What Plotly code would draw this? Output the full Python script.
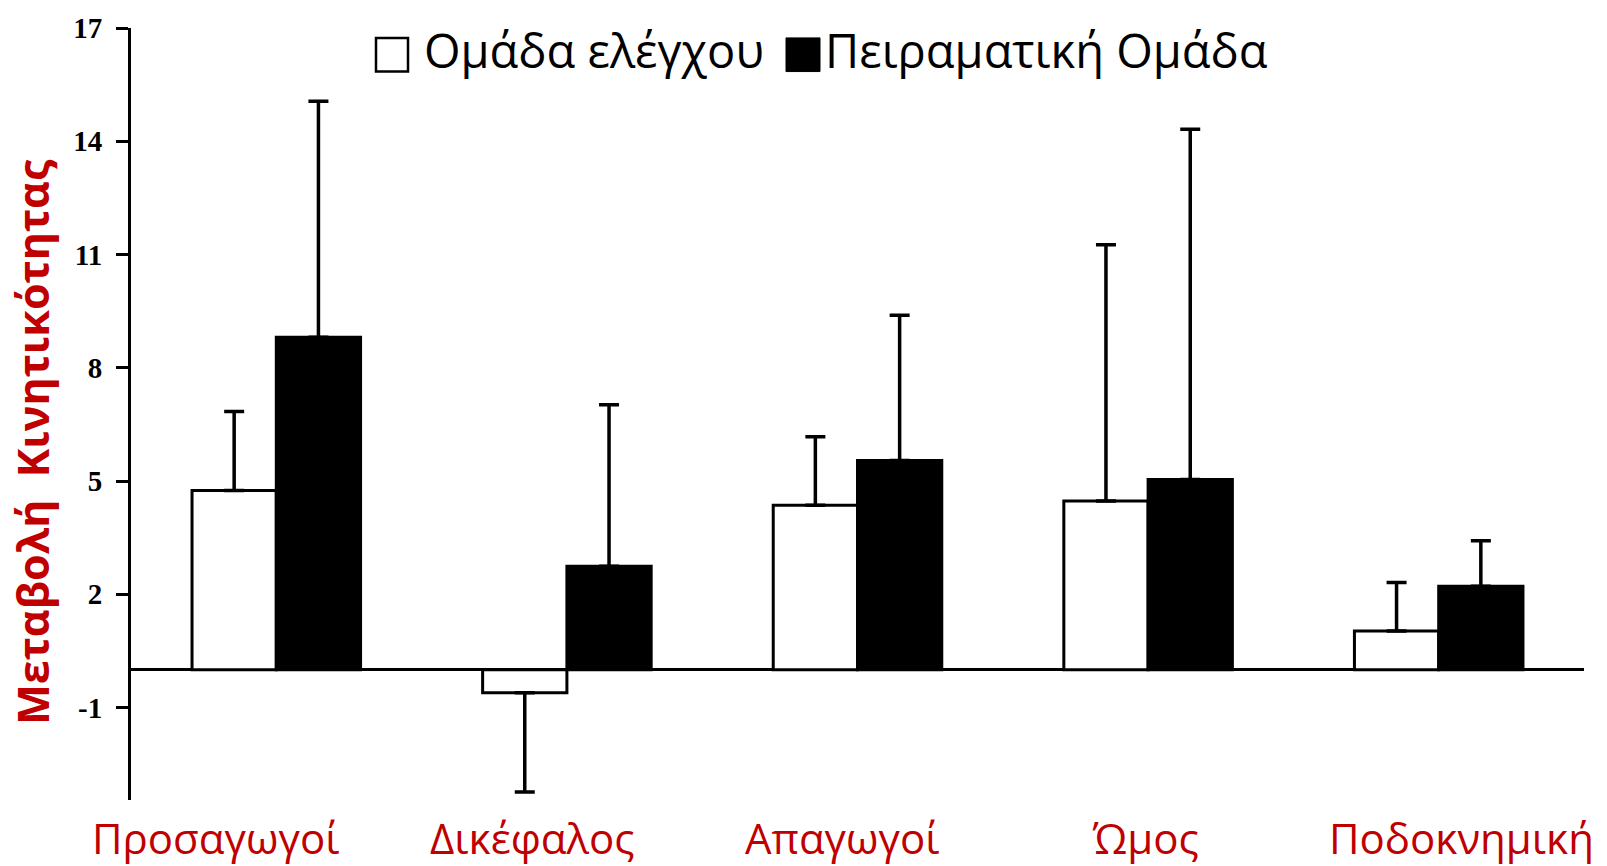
import plotly.graph_objects as go

# ---------------- data ----------------
categories = ["Προσαγωγοί", "Δικέφαλος", "Απαγωγοί", "Ώμος", "Ποδοκνημική"]
control_name = "Ομάδα ελέγχου"
exper_name = "Πειραματική Ομάδα"
control_values = [4.75, -0.61, 4.36, 4.47, 1.03]
control_sd = [2.09, 2.63, 1.81, 6.79, 1.28]
exper_values = [8.81, 2.74, 5.54, 5.04, 2.21]
exper_sd = [6.25, 4.28, 3.85, 9.28, 1.21]
y_ticks = [-1, 2, 5, 8, 11, 14, 17]
y_tick_labels = ["-1", "2", "5", "8", "11", "14", "17"]
y_title = "Μεταβολή  Κινητικότητας"

# ---------------- layout geometry (pixels) ----------------
W, H = 1607, 866
ML, MR, MT, MB = 131, 23, 20, 66
PW, PH = W - ML - MR, H - MT - MB

def px_x(px):
    return (px - ML) / PW

def px_y(py):
    return (H - MB - py) / PH

RED = "#C00000"

def err_up(vals, sd):
    return [s if v >= 0 else 0 for v, s in zip(vals, sd)]

def err_down(vals, sd):
    return [s if v < 0 else 0 for v, s in zip(vals, sd)]

fig = go.Figure()
fig.add_trace(go.Bar(
    name=control_name, x=categories, y=control_values,
    marker=dict(color="white", line=dict(color="black", width=3)),
    error_y=dict(type="data", symmetric=False,
                 array=err_up(control_values, control_sd),
                 arrayminus=err_down(control_values, control_sd),
                 color="black", thickness=3.5, width=10),
    showlegend=False,
))
fig.add_trace(go.Bar(
    name=exper_name, x=categories, y=exper_values,
    marker=dict(color="black", line=dict(color="black", width=3)),
    error_y=dict(type="data", symmetric=False,
                 array=err_up(exper_values, exper_sd),
                 arrayminus=err_down(exper_values, exper_sd),
                 color="black", thickness=3.5, width=10),
    showlegend=False,
))

# category labels (slightly offset from bar groups as in the original)
label_shift = [-0.21, -0.12, -0.05, -0.01, 0.08]
annotations = []
for i, (c, s) in enumerate(zip(categories, label_shift)):
    annotations.append(dict(
        x=i + s, xref="x", y=px_y(838), yref="paper",
        text=c, showarrow=False, xanchor="center", yanchor="middle",
        font=dict(family="Open Sans", size=42, color=RED)))

# y-axis title
annotations.append(dict(
    x=px_x(33), xref="paper", y=px_y(438), yref="paper",
    text=y_title, textangle=-90, showarrow=False,
    xanchor="center", yanchor="middle",
    font=dict(family="Open Sans", size=43, color=RED, weight="bold")))

# legend (large swatches)
leg_font = dict(family="Open Sans", size=47, color="black")
annotations.append(dict(x=px_x(422), xref="paper", y=px_y(42), yref="paper",
                        text=control_name, showarrow=False, xanchor="left",
                        yanchor="middle", font=leg_font))
annotations.append(dict(x=px_x(823), xref="paper", y=px_y(42), yref="paper",
                        text=exper_name, showarrow=False, xanchor="left",
                        yanchor="middle", font=leg_font))
shapes = [
    dict(type="rect", xref="paper", yref="paper",
         x0=px_x(376), x1=px_x(408), y0=px_y(64), y1=px_y(30),
         fillcolor="white", line=dict(color="black", width=2.5)),
    dict(type="rect", xref="paper", yref="paper",
         x0=px_x(786), x1=px_x(820), y0=px_y(64), y1=px_y(30),
         fillcolor="black", line=dict(color="black", width=1)),
]

fig.update_layout(
    width=W, height=H,
    margin=dict(l=ML, r=MR, t=MT, b=MB, pad=0),
    paper_bgcolor="white", plot_bgcolor="white",
    barmode="group", bargap=0.42, bargroupgap=0,
    annotations=annotations, shapes=shapes,
    xaxis=dict(showticklabels=False, showgrid=False, showline=False,
               ticks="", zeroline=False, range=[-0.5, 4.5], fixedrange=True),
    yaxis=dict(range=[-3.45, 17], tickmode="array", tickvals=y_ticks,
               ticktext=y_tick_labels,
               showgrid=False, showline=True, linecolor="black", linewidth=3,
               ticks="outside", ticklen=12, tickwidth=3, tickcolor="black",
               ticklabelstandoff=8,
               tickfont=dict(family="Liberation Serif", size=29, color="black",
                             weight="bold"),
               zeroline=True, zerolinecolor="black", zerolinewidth=3),
)

fig.write_html("out.html", config={"displayModeBar": False},
               post_script="document.body.style.margin='0';document.body.style.overflow='hidden';")
